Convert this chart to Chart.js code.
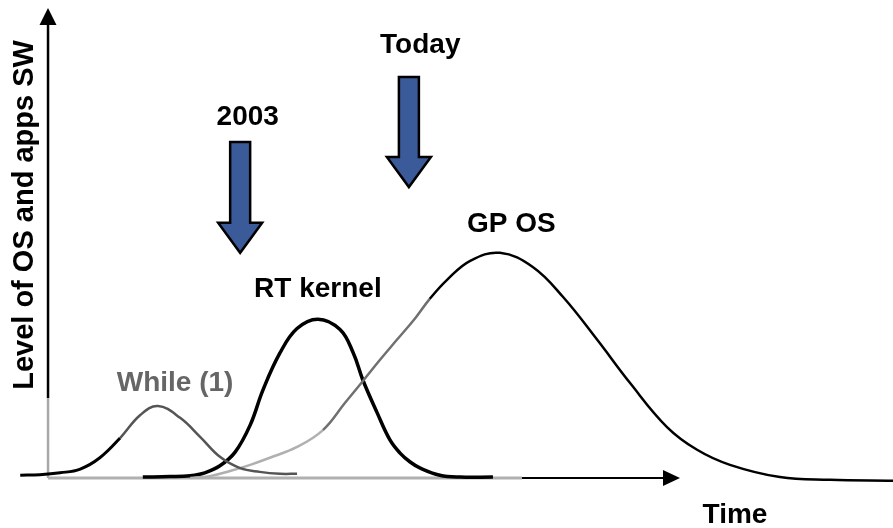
<!DOCTYPE html>
<html><head><meta charset="utf-8">
<script src="https://cdn.jsdelivr.net/npm/chart.js@4.4.1/dist/chart.umd.min.js"></script>
<style>html,body{margin:0;padding:0;background:#fff;overflow:hidden}#wrap{width:893px;height:528px;position:relative}</style>
</head><body><div id="wrap"><canvas id="c"></canvas></div>
<script>
// ---- data (time units on x, software level on y) ----
const seriesNames = ['While (1)', 'RT kernel', 'GP OS'];

const whileTime  = [-4.4, -1.3, 1.9, 5.1, 8.2, 11.4, 14.6, 17.4, 20.9, 24.1, 27.2, 30.4, 33.5, 36.7, 39.4];
const whileLevel = [0.6, 0.7, 1.1, 1.9, 4.3, 8.5, 13.4, 15.3, 12.8, 8.7, 4.5, 2.1, 1.3, 0.9, 0.9];

const rtTime  = [15.0, 19.3, 22.5, 24.8, 27.2, 29.6, 32.0, 34.0, 36.7, 39.4, 42.7, 46.2, 48.3, 49.8, 52.1, 54.1, 55.7, 57.3, 58.9, 62.0, 65.2, 70.4];
const rtLevel = [0.2, 0.3, 0.5, 1.1, 2.6, 5.5, 11.3, 18.7, 26.6, 31.8, 33.8, 31.6, 26.6, 20.9, 13.8, 8.1, 5.3, 3.4, 2.1, 0.6, 0.2, 0.2];

const gpTime  = [22.5, 25.6, 28.8, 32.0, 35.1, 39.4, 43.5, 47.0, 49.8, 52.5, 55.2, 58.1, 60.4, 63.1, 66.8, 71.5, 76.7, 81.5, 86.9, 92.1, 97.9, 102.7, 107.9, 115.8, 123.7, 133.7];
const gpLevel = [0.0, 0.4, 1.5, 2.8, 4.3, 6.6, 10.2, 16.0, 20.6, 25.1, 29.4, 34.0, 38.1, 42.1, 46.2, 47.9, 44.9, 38.5, 29.4, 20.2, 10.9, 6.0, 2.8, 0.2, -0.4, -0.6];

const markerLabels = ['2003', 'Today'];
const markerTime   = [30.4, 57.1];

const axisTitleX = 'Time';
const axisTitleY = 'Level of OS and apps SW';

// ---- layout / style (not data) ----
const view = { xMin: -7.6, xMax: 133.7, yMin: -10.64, yMax: 101.7 };
const markerGeom = [ { top: 71.5, tip: 47.9, lx: 31.6, ly: 75.1 }, { top: 85.3, tip: 61.9, lx: 58.9, ly: 90.4 } ];
const seriesLabelPos = [ { x: 20.1, y: 18.5, color: '#666666' }, { x: 42.7, y: 38.5, color: '#000' }, { x: 73.3, y: 52.3, color: '#000' } ];
const FONT = 'bold 28px "Liberation Sans", Arial, sans-serif';
const FONT_Y = 'bold 29px "Liberation Sans", Arial, sans-serif';

function pts(xs, ys) { return xs.map((x, i) => ({ x, y: ys[i] })); }

const decor = {
  id: 'decor',
  beforeDatasetsDraw(chart) {
    const { ctx, scales: { x: sx, y: sy } } = chart;
    const x0 = sx.getPixelForValue(0), y0 = sy.getPixelForValue(0);
    const yTop = sy.getPixelForValue(100), xEnd = sx.getPixelForValue(100);
    ctx.save();
    ctx.lineCap = 'butt';
    ctx.strokeStyle = '#000'; ctx.lineWidth = 2.5;
    ctx.beginPath(); ctx.moveTo(x0, yTop + 14); ctx.lineTo(x0, sy.getPixelForValue(17)); ctx.stroke();
    ctx.strokeStyle = '#a8a8a8'; ctx.lineWidth = 2.5;
    ctx.beginPath(); ctx.moveTo(x0, sy.getPixelForValue(17)); ctx.lineTo(x0, y0); ctx.stroke();
    ctx.fillStyle = '#000';
    ctx.beginPath(); ctx.moveTo(x0, yTop); ctx.lineTo(x0 + 8.5, yTop + 17); ctx.lineTo(x0 - 8.5, yTop + 17); ctx.closePath(); ctx.fill();
    const xSplit = sx.getPixelForValue(75);
    ctx.strokeStyle = '#b0b0b0'; ctx.lineWidth = 3;
    ctx.beginPath(); ctx.moveTo(x0, y0); ctx.lineTo(xSplit, y0); ctx.stroke();
    ctx.strokeStyle = '#000'; ctx.lineWidth = 2;
    ctx.beginPath(); ctx.moveTo(xSplit, y0); ctx.lineTo(xEnd - 14, y0); ctx.stroke();
    ctx.beginPath(); ctx.moveTo(xEnd, y0); ctx.lineTo(xEnd - 17, y0 - 8); ctx.lineTo(xEnd - 17, y0 + 8); ctx.closePath(); ctx.fill();
    ctx.restore();
  },
  afterDatasetsDraw(chart) {
    const { ctx, scales: { x: sx, y: sy } } = chart;
    ctx.save();
    ctx.font = FONT;
    ctx.textAlign = 'center'; ctx.textBaseline = 'alphabetic';
    markerTime.forEach((t, i) => {
      const g = markerGeom[i];
      const x = sx.getPixelForValue(t), yT = sy.getPixelForValue(g.top), yP = sy.getPixelForValue(g.tip);
      const sw = 10, hw = 22, hl = 30;
      ctx.beginPath();
      ctx.moveTo(x - sw, yT); ctx.lineTo(x + sw, yT); ctx.lineTo(x + sw, yP - hl); ctx.lineTo(x + hw, yP - hl);
      ctx.lineTo(x, yP); ctx.lineTo(x - hw, yP - hl); ctx.lineTo(x - sw, yP - hl); ctx.closePath();
      ctx.fillStyle = '#3b5a9a'; ctx.fill();
      ctx.lineWidth = 2.5; ctx.lineJoin = 'miter'; ctx.strokeStyle = '#000'; ctx.stroke();
      ctx.fillStyle = '#000';
      ctx.fillText(markerLabels[i], sx.getPixelForValue(g.lx), sy.getPixelForValue(g.ly));
    });
    seriesNames.forEach((n, i) => {
      const p = seriesLabelPos[i];
      ctx.fillStyle = p.color;
      ctx.fillText(n, sx.getPixelForValue(p.x), sy.getPixelForValue(p.y));
    });
    ctx.fillStyle = '#000';
    ctx.fillText(axisTitleX, sx.getPixelForValue(108.7), sy.getPixelForValue(-9.57));
    ctx.font = FONT_Y;
    ctx.translate(sx.getPixelForValue(-2.37), sy.getPixelForValue(55.96));
    ctx.rotate(-Math.PI / 2);
    ctx.fillText(axisTitleY, 0, 0);
    ctx.restore();
  }
};

new Chart(document.getElementById('c'), {
  type: 'scatter',
  data: {
    datasets: [
      { label: seriesNames[0], data: pts(whileTime, whileLevel), showLine: true, pointRadius: 0, borderWidth: 2.5,
        borderColor: '#555', tension: 0.4,
        segment: { borderColor: c => c.p0.parsed.x < 8.5 ? '#000' : '#555', borderWidth: c => c.p0.parsed.x < 8.5 ? 3 : 2.5 } },
      { label: seriesNames[2], data: pts(gpTime, gpLevel), showLine: true, pointRadius: 0, borderWidth: 2.5,
        borderColor: '#000', tension: 0.4,
        segment: { borderColor: c => c.p0.parsed.x < 43.5 ? '#b0b0b0' : (c.p0.parsed.x < 59 ? '#707070' : '#000') } },
      { label: seriesNames[1], data: pts(rtTime, rtLevel), showLine: true, pointRadius: 0, borderWidth: 3.5,
        borderColor: '#000', tension: 0.4 }
    ]
  },
  options: {
    responsive: true, maintainAspectRatio: false, animation: false,
    layout: { padding: 0 },
    plugins: { legend: { display: false }, tooltip: { enabled: false } },
    scales: {
      x: { type: 'linear', display: false, min: view.xMin, max: view.xMax },
      y: { type: 'linear', display: false, min: view.yMin, max: view.yMax }
    }
  },
  plugins: [decor]
});
</script>
</body></html>
